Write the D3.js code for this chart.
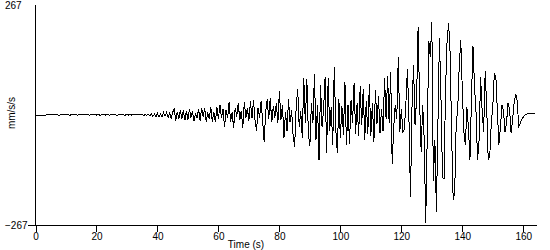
<!DOCTYPE html>
<html>
<head>
<meta charset="utf-8">
<title>Accelerogram</title>
<script src="https://d3js.org/d3.v7.min.js"></script>
<style>
  body { margin: 0; background: #fff; }
  svg { display: block; }
  text { font-family: "Liberation Sans", Arial, sans-serif; font-size: 10px; fill: #000; }
</style>
</head>
<body>
<div id="chart"></div>
<script>
// sample spacing (s) and acceleration values (mm/s/s), one row = 10 s
var dt = 0.5;
var accel = [
  0,0,0,0,0,0,0,0,2,1,0,1,1,0,1,0,0,1,0,2,
  0,1,0,0,1,0,1,0,0,1,2,0,1,0,1,0,0,1,0,1,
  0,1,0,0,1,2,0,1,0,0,1,0,1,0,0,1,0,1,0,0,
  1,0,1,0,1,0,1,0,1,0,1,-1,1,-1,2,-2,3,-3,2,-4,
  4,-5,3,-4,6,-3,7,-6,5,-8,6,17,-14,8,-10,12,-9,11,-13,10,
  -12,14,-6,9,-15,4,-8,15,-14,18,-5,16,-17,6,-9,19,-16,8,-18,20,
  -10,25,-6,14,-30,12,-8,31,-16,6,-32,18,-4,30,-12,10,-31,32,-6,16,
  -14,33,-8,36,-12,-39,18,-6,35,-14,-65,8,38,-10,40,-18,22,-6,30,-20,
  58,-12,24,-55,8,-40,38,-18,12,-50,-78,20,63,-30,10,-55,90,-20,88,-45,
  -75,30,-20,100,-60,25,-110,72,-30,15,92,-92,90,-40,20,-72,117,-35,-92,40,
  -55,22,-48,80,-73,25,-70,36,-20,77,-45,30,-50,70,-25,62,-60,35,-45,75,
  -50,28,-65,60,-22,45,-44,15,-40,90,-10,95,-20,105,-119,-30,25,-10,141,-41,
  15,-41,-35,30,112,-10,-199,20,121,-25,40,214,30,-90,25,-60,-262,-50,180,140,
  226,-160,-60,-235,-20,187,40,-151,-155,60,180,223,150,-50,-205,-190,-20,15,120,182,
  60,-40,-73,20,-30,-110,40,168,70,5,-108,-60,92,10,-40,107,20,-110,-100,-20,
  20,100,95,10,-72,-30,24,10,-41,-20,30,15,-44,-10,30,51,35,-27,-20,-10,
  -5,0,2,3,4,3,3,3,3
];
var xTicks = [0, 20, 40, 60, 80, 100, 120, 140, 160];
var yTicks = [-267, 267];
var tMax = 164.4;

var w = 550, h = 250;
var svg = d3.select("#chart").append("svg")
  .attr("width", w)
  .attr("height", h);

var xScale = d3.scaleLinear().domain([0, tMax]).range([35.5, 536.7]);
var yScale = d3.scaleLinear().domain([-267, 267]).range([225, 5]);

// trace
var line = d3.line()
  .x(function(d, i){ return xScale(i * dt); })
  .y(function(d){ return yScale(d); });

svg.append("path")
  .datum(accel)
  .attr("d", line)
  .attr("fill", "none")
  .attr("stroke", "#000")
  .attr("stroke-width", 1)
  .attr("shape-rendering", "crispEdges");

// x axis
var xAxis = d3.axisBottom(xScale)
  .tickValues(xTicks)
  .tickSize(7)
  .tickSizeOuter(0)
  .tickPadding(1);
var gx = svg.append("g")
  .attr("transform", "translate(0,225)")
  .call(xAxis);
gx.select(".domain").remove();
gx.attr("font-family", null).attr("font-size", null);
gx.selectAll("line").attr("stroke", "#000").attr("shape-rendering", "crispEdges");

svg.append("line")
  .attr("x1", 28).attr("x2", xScale(tMax))
  .attr("y1", 225.5).attr("y2", 225.5)
  .attr("stroke", "#000")
  .attr("shape-rendering", "crispEdges");

// y axis: only the two range labels, left aligned
var yAxis = d3.axisLeft(yScale)
  .tickValues(yTicks)
  .tickSize(0)
  .tickSizeOuter(0);
var gy = svg.append("g")
  .attr("transform", "translate(35.5,0)")
  .call(yAxis);
gy.select(".domain").remove();
gy.attr("font-family", null).attr("font-size", null);
gy.selectAll("text")
  .attr("text-anchor", "start")
  .attr("x", -30.5);

svg.append("line")
  .attr("x1", 35.5).attr("x2", 35.5)
  .attr("y1", 5).attr("y2", 225.5)
  .attr("stroke", "#000")
  .attr("shape-rendering", "crispEdges");

// axis titles
svg.append("text")
  .attr("x", 246)
  .attr("y", 248)
  .attr("text-anchor", "middle")
  .text("Time (s)");

svg.append("text")
  .attr("transform", "translate(15,113) rotate(-90)")
  .attr("text-anchor", "middle")
  .text("mm/s/s");
</script>
</body>
</html>
